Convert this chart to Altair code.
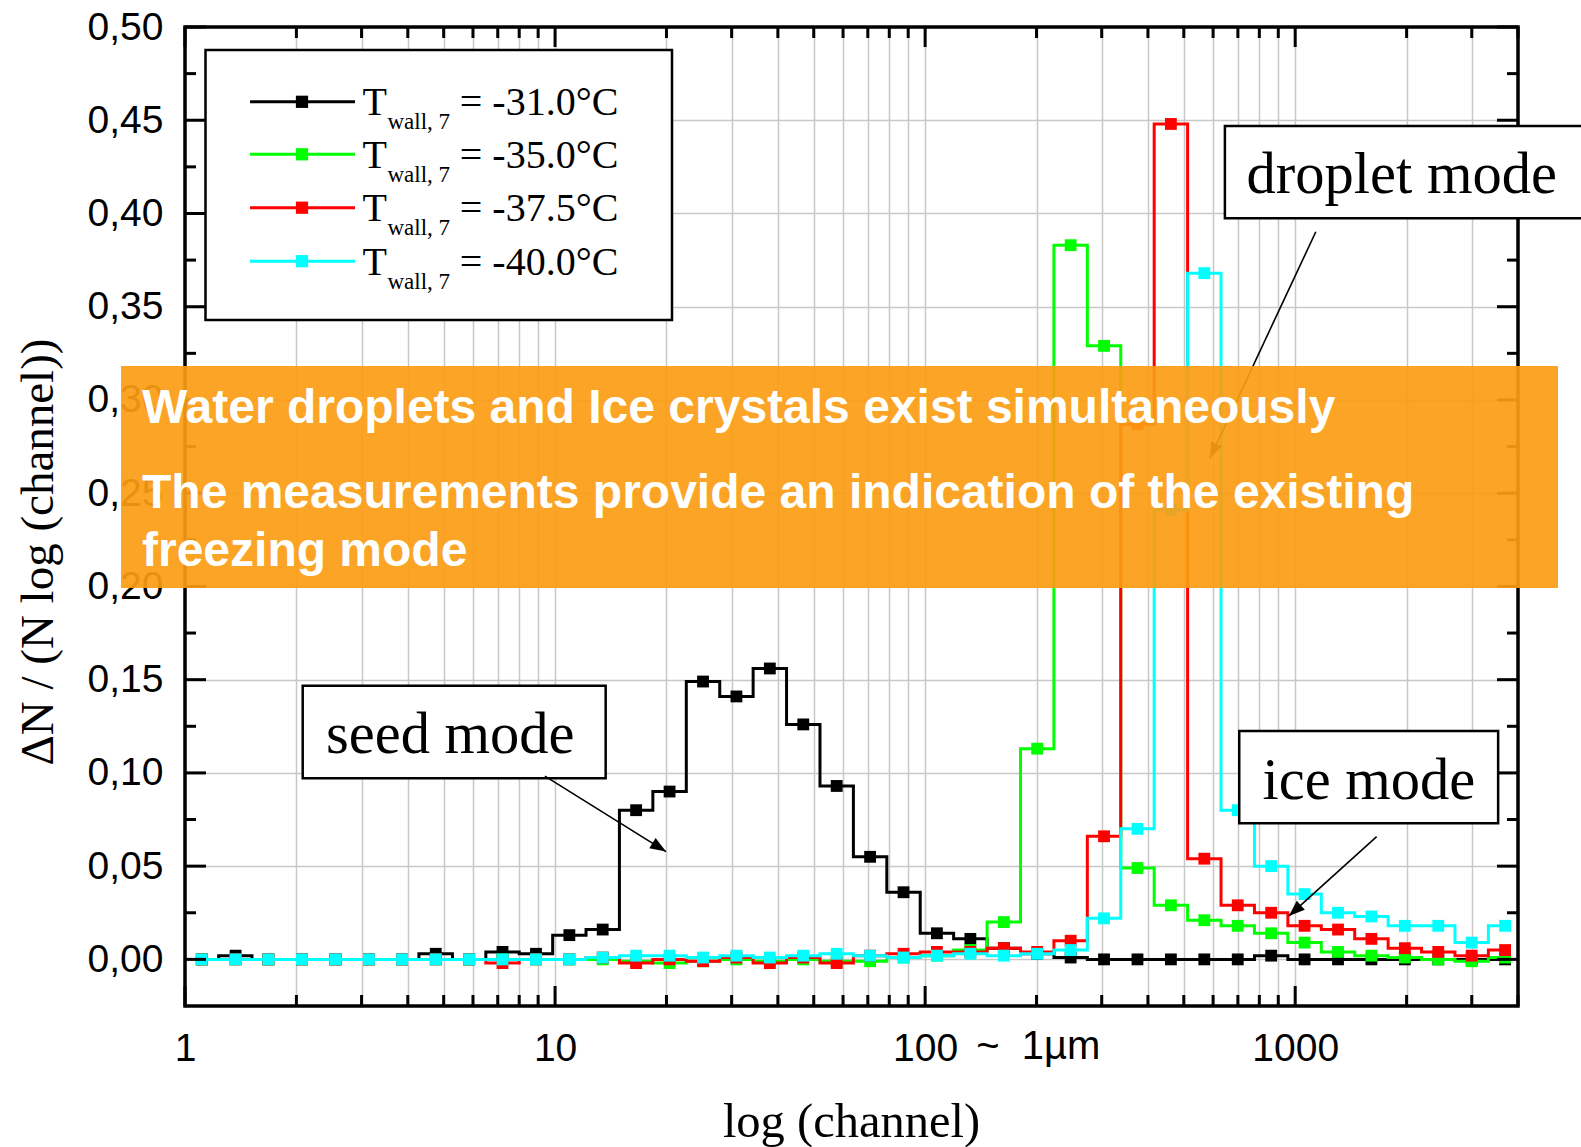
import math
import altair as alt
import pandas as pd

# plot area size in px
W, H = 1333, 979

# channel centres of the 40 logarithmic bins
channels = [1.11, 1.37, 1.68, 2.07, 2.55, 3.14, 3.86, 4.76, 5.86, 7.21,
            8.88, 10.93, 13.45, 16.56, 20.39, 25.11, 30.91, 38.05, 46.85, 57.68,
            71.01, 87.43, 107.6, 132.5, 163.2, 200.8, 247.3, 304.4, 374.8, 461.4,
            568.1, 699.4, 861.1, 1060.1, 1305.2, 1606.7, 1978.3, 2435.5, 2998.3, 3691.5]

# normalised counts dN / (N log(channel)) for each wall temperature
dn_m310 = [0.000, 0.002, 0.000, 0.000, 0.000, 0.000, 0.000, 0.003, 0.000, 0.004,
           0.003, 0.013, 0.016, 0.080, 0.090, 0.149, 0.141, 0.156, 0.126, 0.093,
           0.055, 0.036, 0.014, 0.011, 0.006, 0.003, 0.001, 0.000, 0.000, 0.000,
           0.000, 0.000, 0.002, 0.000, 0.000, 0.000, 0.000, 0.000, 0.000, 0.000]
dn_m350 = [0.000, 0.000, 0.000, 0.000, 0.000, 0.000, 0.000, 0.000, 0.000, 0.000,
           0.000, 0.000, 0.000, -0.001, -0.002, -0.001, 0.000, -0.001, 0.000, -0.001,
           -0.001, 0.001, 0.002, 0.005, 0.020, 0.113, 0.383, 0.329, 0.049, 0.029,
           0.021, 0.018, 0.014, 0.009, 0.004, 0.002, 0.001, 0.000, -0.001, 0.001]
dn_m375 = [0.000, 0.000, 0.000, 0.000, 0.000, 0.000, 0.000, 0.000, 0.000, -0.002,
           0.000, 0.000, 0.001, -0.002, 0.000, -0.001, 0.001, -0.002, 0.001, -0.002,
           0.002, 0.003, 0.004, 0.004, 0.006, 0.004, 0.010, 0.066, 0.287, 0.448,
           0.054, 0.029, 0.025, 0.018, 0.016, 0.011, 0.006, 0.004, 0.002, 0.005]
dn_m400 = [0.000, 0.000, 0.000, 0.000, 0.000, 0.000, 0.000, 0.000, 0.000, 0.000,
           0.000, 0.000, 0.001, 0.002, 0.002, 0.001, 0.002, 0.001, 0.002, 0.003,
           0.002, 0.001, 0.002, 0.003, 0.002, 0.003, 0.005, 0.022, 0.070, 0.241,
           0.368, 0.080, 0.050, 0.035, 0.025, 0.023, 0.018, 0.018, 0.009, 0.018]

series_labels = ["-31.0°C", "-35.0°C", "-37.5°C", "-40.0°C"]
series_colors = ["#000000", "#00ff00", "#ff0000", "#00ffff"]
series_values = [dn_m310, dn_m350, dn_m375, dn_m400]

# axis ticks / grid positions
x_major = [1, 10, 100, 1000]
x_minor = [2, 3, 4, 5, 6, 7, 8, 9, 20, 30, 40, 50, 60, 70, 80, 90,
           200, 300, 400, 500, 600, 700, 800, 900, 2000, 3000, 4000]
x_grid = sorted(x_major + x_minor)
y_major = [0.0, 0.05, 0.10, 0.15, 0.20, 0.25, 0.30, 0.35, 0.40, 0.45, 0.50]
y_minor = [0.025, 0.075, 0.125, 0.175, 0.225, 0.275, 0.325, 0.375, 0.425, 0.475]

# annotation boxes, labels and arrows (data coordinates)
box_x1 = [2.08, 645.7, 706.0]
box_x2 = [13.70, 9000.0, 3535.0]
box_y1 = [0.1468, 0.4469, 0.1225]
box_y2 = [0.0971, 0.3974, 0.0730]
box_text = ["seed mode", "droplet mode", "ice mode"]
box_text_x = [2.404, 739.0, 816.0]
box_text_y = [0.1105, 0.4111, 0.0858]
arrow_x0 = [9.39, 1137.0, 1660.0]
arrow_y0 = [0.0983, 0.3902, 0.0658]
arrow_x1 = [19.94, 588.0, 961.6]
arrow_y1 = [0.0578, 0.2687, 0.0233]

banner_lines = ["Water droplets and Ice crystals exist simultaneously",
                "The measurements provide an indication of the existing",
                "freezing mode"]

SERIF = "Liberation Serif"
SANS = "Liberation Sans"

xs = alt.Scale(type="log", domain=[1, 4000], nice=False)
ys = alt.Scale(domain=[-0.025, 0.5], nice=False, zero=False)


def px_x(v):
    return W * math.log10(v) / math.log10(4000)


def px_y(v):
    return H * (0.5 - v) / 0.525


one = pd.DataFrame({"k": [0]})
layers = []

# one shared axis definition per channel, repeated on every layer that uses the scales
x_axis = alt.Axis(values=x_grid, grid=True, gridColor="#c8c8c8", gridWidth=1.5,
                  ticks=False, domain=False, labelFont=SANS, labelFontSize=39,
                  labelColor="black", labelPadding=23, labelFlush=False,
                  labelOverlap=False, title=None,
                  labelExpr="(datum.value == 1 || datum.value == 10 || datum.value == 100 || datum.value == 1000) ? format(datum.value, 'd') : ''")
y_axis = alt.Axis(values=y_major, grid=True, gridColor="#c8c8c8", gridWidth=1.5,
                  ticks=False, domain=False, labelFont=SANS, labelFontSize=39,
                  labelColor="black", labelPadding=22, labelFlush=False,
                  labelOverlap=False, title=None,
                  labelExpr="replace(format(datum.value, '.2f'), '.', ',')")


def X(field):
    return alt.X(field, scale=xs, axis=x_axis, title=None)


def Y(field):
    return alt.Y(field, scale=ys, axis=y_axis, title=None)


# measured distributions: step line + square markers per temperature
for lab, col, vals in zip(series_labels, series_colors, series_values):
    df = pd.DataFrame({"channel": channels, "dn": vals})
    line = alt.Chart(df).mark_line(interpolate="step", color=col, strokeWidth=3).encode(
        x=X("channel:Q"), y=Y("dn:Q"))
    pts = alt.Chart(df).mark_point(shape="square", filled=True, size=140, color=col, opacity=1).encode(
        x=X("channel:Q"), y=Y("dn:Q"))
    layers += [line, pts]

# frame
layers.append(alt.Chart(one).mark_rect(fill="transparent", stroke="black", strokeWidth=3.5).encode(
    x=alt.value(0), x2=alt.value(W), y=alt.value(0), y2=alt.value(H)))


# inward ticks on all four sides
def x_ticks(values, length):
    df = pd.DataFrame({"v": values})
    out = []
    for y0, y1 in [(H, H - length), (0, length)]:
        out.append(alt.Chart(df).mark_rule(color="black", strokeWidth=3).encode(
            x=X("v:Q"), y=alt.value(y0), y2=alt.value(y1)))
    return out


def y_ticks(values, length):
    df = pd.DataFrame({"v": values})
    out = []
    for x0, x1 in [(0, length), (W, W - length)]:
        out.append(alt.Chart(df).mark_rule(color="black", strokeWidth=3).encode(
            y=Y("v:Q"), x=alt.value(x0), x2=alt.value(x1)))
    return out


layers += x_ticks(x_major, 20) + x_ticks(x_minor, 11)
layers += y_ticks(y_major, 21) + y_ticks(y_minor, 11)

# suffix on the 100 tick label
layers.append(alt.Chart(pd.DataFrame({"v": [100]})).mark_text(
    text="~\u00a0\u00a01µm", font=SANS, fontSize=40, align="left", baseline="alphabetic", dx=51,
    color="black").encode(x=X("v:Q"), y=alt.value(1032)))

# axis titles
layers.append(alt.Chart(one).mark_text(
    text="log (channel)", font=SERIF, fontSize=48.5, align="center", baseline="alphabetic", color="black").encode(
    x=alt.value(W / 2), y=alt.value(1110)))
layers.append(alt.Chart(one).mark_text(
    text="ΔN / (N log (channel))", font=SERIF, fontSize=47, align="center", baseline="alphabetic",
    angle=270, color="black").encode(x=alt.value(-132), y=alt.value(525)))

# legend
leg_rows = [74.8, 127.3, 180.7, 234.2]
layers.append(alt.Chart(one).mark_rect(fill="white", stroke="black", strokeWidth=2.5).encode(
    x=alt.value(20.5), x2=alt.value(487), y=alt.value(23), y2=alt.value(293)))
for yr, lab, col in zip(leg_rows, series_labels, series_colors):
    layers.append(alt.Chart(one).mark_rule(color=col, strokeWidth=3).encode(
        x=alt.value(65), x2=alt.value(170), y=alt.value(yr)))
    layers.append(alt.Chart(one).mark_point(shape="square", filled=True, size=150, color=col, opacity=1).encode(
        x=alt.value(117), y=alt.value(yr)))
    layers.append(alt.Chart(one).mark_text(text="T", font=SERIF, fontSize=40, align="left",
                                           baseline="alphabetic", color="black").encode(
        x=alt.value(177.5), y=alt.value(yr + 13.5)))
    layers.append(alt.Chart(one).mark_text(text="wall, 7", font=SERIF, fontSize=23, align="left",
                                           baseline="alphabetic", color="black").encode(
        x=alt.value(202.5), y=alt.value(yr + 27.6)))
    layers.append(alt.Chart(one).mark_text(text="= " + lab, font=SERIF, fontSize=40, align="left",
                                           baseline="alphabetic", color="black").encode(
        x=alt.value(274.8), y=alt.value(yr + 13.5)))

# mode annotations
boxes = pd.DataFrame({"x1": box_x1, "x2": box_x2, "y1": box_y1, "y2": box_y2,
                      "tx": box_text_x, "ty": box_text_y, "label": box_text})
layers.append(alt.Chart(boxes).mark_rect(fill="white", stroke="black", strokeWidth=2.5).encode(
    x=X("x1:Q"), x2="x2:Q", y=Y("y1:Q"), y2="y2:Q"))
layers.append(alt.Chart(boxes).mark_text(font=SERIF, fontSize=58.5, align="left", baseline="alphabetic",
                                         color="black").encode(
    x=X("tx:Q"), y=Y("ty:Q"), text="label:N"))

angles = []
for a0, b0, a1, b1 in zip(arrow_x0, arrow_y0, arrow_x1, arrow_y1):
    dx = px_x(a1) - px_x(a0)
    dy = px_y(b1) - px_y(b0)
    angles.append(math.degrees(math.atan2(dx, -dy)) % 360)
arrows = pd.DataFrame({"x0": arrow_x0, "y0": arrow_y0, "x1": arrow_x1, "y1": arrow_y1, "ang": angles})
layers.append(alt.Chart(arrows).mark_rule(color="black", strokeWidth=1.6).encode(
    x=X("x0:Q"), y=Y("y0:Q"), x2="x1:Q", y2="y1:Q"))
layers.append(alt.Chart(arrows).mark_point(shape="M0,0L-0.375,1L0.375,1Z", filled=True, size=1024,
                                           color="black", opacity=1).encode(
    x=X("x1:Q"), y=Y("y1:Q"), angle=alt.Angle("ang:Q", scale=None)))

# highlighted statement banner
layers.append(alt.Chart(one).mark_rect(fill="#fb9c12", opacity=0.92).encode(
    x=alt.value(-64), x2=alt.value(1373), y=alt.value(339), y2=alt.value(561)))
for txt, yb in zip(banner_lines, [395.7, 481.3, 539.0]):
    layers.append(alt.Chart(one).mark_text(text=txt, font=SANS, fontWeight="bold", fontSize=48,
                                           align="left", baseline="alphabetic", color="white").encode(
        x=alt.value(-43), y=alt.value(yb)))

chart = alt.layer(*layers).properties(
    width=W, height=H,
    autosize=alt.AutoSizeParams(type="none"),
    padding={"left": 185, "top": 27, "right": 63, "bottom": 141},
    background="white",
).configure_view(stroke=None)

chart.save("out.html", embed_options={"renderer": "svg", "actions": False})
